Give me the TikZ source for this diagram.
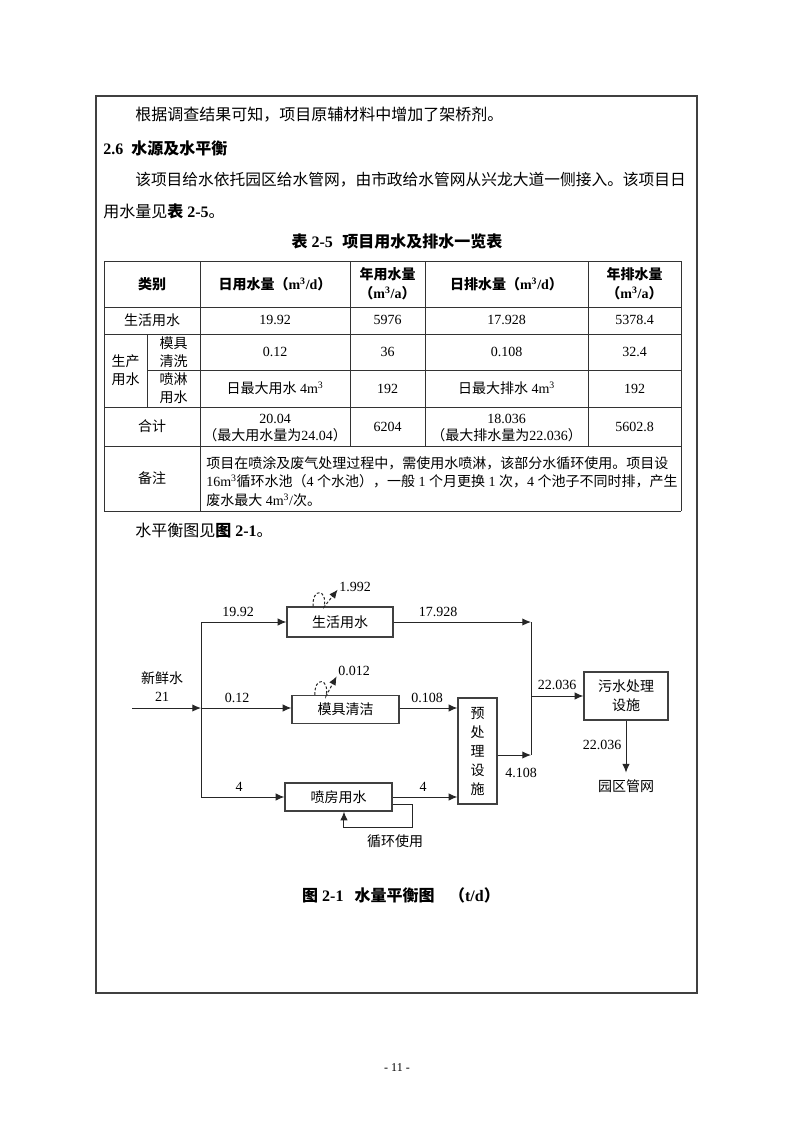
\documentclass[tikz,border=0pt]{standalone}
\usepackage{fontspec}
\setmainfont{Liberation Serif}
\newfontfamily\cjk{Noto Sans CJK SC}
\newcommand\zh[1]{{\cjk #1}}
\usetikzlibrary{arrows.meta}
\tikzset{
  body/.style={inner sep=0pt, anchor=west, font=\fontsize{12pt}{14pt}\selectfont},
  bodyb/.style={inner sep=0pt, anchor=west, font=\fontsize{12pt}{14pt}\selectfont\bfseries},
  cell/.style={inner sep=0pt, align=center, font=\fontsize{10.5pt}{13.5pt}\selectfont},
  cellb/.style={inner sep=0pt, align=center, font=\fontsize{10.5pt}{14.25pt}\selectfont\bfseries},
  tab/.style={line width=0.75pt, black!80},
  box/.style={draw=black!75, line width=0.9pt, inner sep=0pt, align=center,
    font=\fontsize{10.5pt}{14.25pt}\selectfont},
  lbl/.style={inner sep=1pt, align=center, font=\fontsize{10.5pt}{13.5pt}\selectfont},
  line/.style={line width=0.75pt, black!85},
  flow/.style={line, -{Latex[length=6.5pt,width=5.5pt]}},
  loss/.style={line, dashed, dash pattern=on 2pt off 1.5pt, -{Latex[length=6.5pt,width=5.5pt]}}
}
\begin{document}
\begin{tikzpicture}[x=0.75pt,y=-0.75pt]
\fill[white] (0,0) rectangle (793,1122);
\draw[line width=1.2pt, black!75] (96,96) rectangle (697,993);

% text above the table
\node[body] (p1) at (135,115) {\zh{根据调查结果可知，项目原辅材料中增加了架桥剂。}};
\node[bodyb] (sec) at (103,148) {2.6\hspace{0.5em}\zh{水源及水平衡}};
\node[body, font=\fontsize{11.8pt}{14pt}\selectfont] (p2) at (135,180) {\zh{该项目给水依托园区给水管网，由市政给水管网从兴龙大道一侧接入。该项目日}};
\node[body] (p3) at (103,211) {\zh{用水量见}\textbf{\zh{表} 2-5}\zh{。}};
\node[bodyb, anchor=center] (ttl) at (397,241) {\zh{表} 2-5\hspace{0.6em}\zh{项目用水及排水一览表}};

% table rules
\foreach \y in {261,307,334,407,446,511}
  {\draw[tab] (104,\y) -- (681,\y);}
\draw[tab] (147,370) -- (681,370);
\foreach \x in {104,200,681}
  {\draw[tab] (\x,261) -- (\x,511);}
\foreach \x in {350,425,588}
  {\draw[tab] (\x,261) -- (\x,446);}
\draw[tab] (147,334) -- (147,407);

% table cells
\node[cellb] (h1) at (152,284) {\zh{类别}};
\node[cellb] (h2) at (275,284) {\zh{日用水量（}m\textsuperscript{3}/d\zh{）}};
\node[cellb] (h3) at (387.5,284) {\zh{年用水量}\\\zh{（}m\textsuperscript{3}/a\zh{）}};
\node[cellb] (h4) at (506.5,284) {\zh{日排水量（}m\textsuperscript{3}/d\zh{）}};
\node[cellb] (h5) at (634.5,284) {\zh{年排水量}\\\zh{（}m\textsuperscript{3}/a\zh{）}};
\node[cell] (a1) at (152,320) {\zh{生活用水}};
\node[cell] (a2) at (275,320) {19.92};
\node[cell] (a3) at (387.5,320) {5976};
\node[cell] (a4) at (506.5,320) {17.928};
\node[cell] (a5) at (634.5,320) {5378.4};
\node[cell] (b0) at (125.5,370.5) {\zh{生产}\\\zh{用水}};
\node[cell] (b1) at (173.5,352) {\zh{模具}\\\zh{清洗}};
\node[cell] (b2) at (275,352) {0.12};
\node[cell] (b3) at (387.5,352) {36};
\node[cell] (b4) at (506.5,352) {0.108};
\node[cell] (b5) at (634.5,352) {32.4};
\node[cell] (c1) at (173.5,388.5) {\zh{喷淋}\\\zh{用水}};
\node[cell] (c2) at (275,388.5) {\zh{日最大用水} 4m\textsuperscript{3}};
\node[cell] (c3) at (387.5,388.5) {192};
\node[cell] (c4) at (506.5,388.5) {\zh{日最大排水} 4m\textsuperscript{3}};
\node[cell] (c5) at (634.5,388.5) {192};
\node[cell, font=\fontsize{10.5pt}{12.75pt}\selectfont] (d2) at (275,428) {20.04\\\zh{（最大用水量为}24.04\zh{）}};
\node[cell] (d1) at (152,426.5) {\zh{合计}};
\node[cell] (d3) at (387.5,426.5) {6204};
\node[cell, font=\fontsize{10.5pt}{12.75pt}\selectfont] (d4) at (506.5,428) {18.036\\\zh{（最大排水量为}22.036\zh{）}};
\node[cell] (d5) at (634.5,426.5) {5602.8};
\node[cell] (e1) at (152,478.5) {\zh{备注}};
\node[cell, anchor=west, align=left, font=\fontsize{10.5pt}{13.9pt}\selectfont] (e2) at (206,481.5)
  {\zh{项目在喷涂及废气处理过程中，需使用水喷淋，该部分水循环使用。项目设}\\
   16m\textsuperscript{3}\zh{循环水池（}4 \zh{个水池），一般} 1 \zh{个月更换} 1 \zh{次，}4 \zh{个池子不同时排，产生}\\
   \zh{废水最大} 4m\textsuperscript{3}/\zh{次。}};

\node[body] (p4) at (135,531) {\zh{水平衡图见}\textbf{\zh{图} 2-1}\zh{。}};

% water balance diagram
\node[box, minimum width=79.5pt, minimum height=22.5pt] (life) at (340,622) {\zh{生活用水}};
\node[box, minimum width=80.25pt, minimum height=21pt] (mold) at (345.5,709.5) {\zh{模具清洁}};
\node[box, minimum width=80.25pt, minimum height=21pt] (spray) at (338.5,797) {\zh{喷房用水}};
\node[box, minimum width=29.25pt, minimum height=79.5pt] (pre) at (477.5,751)
  {\zh{预}\\\zh{处}\\\zh{理}\\\zh{设}\\\zh{施}};
\node[box, minimum width=63pt, minimum height=36pt] (sew) at (626,696) {\zh{污水处理}\\\zh{设施}};
\node[lbl] (net) at (626,786) {\zh{园区管网}};
\node[lbl] (fresh) at (162,687) {\zh{新鲜水}\\21};

\coordinate (src) at (132,708);
\coordinate (split) at (201,708);
\coordinate (j1) at (531,622);
\coordinate (j2) at (531,755);
\coordinate (j3) at (531,696);
\coordinate (loop) at (412,827);

\draw[flow] (src) -- (split);
\draw[flow] (split) |- (life.west);
\draw[flow] (split) -- (split -| mold.west);
\draw[flow] (split) |- (spray.west);
\draw[flow] (life.east) -- (j1);
\draw[line] (j1) -- (j2);
\draw[flow] (mold.east |- split) -- (pre.west |- split);
\draw[flow] (spray.east) -- (spray.east -| pre.west);
\draw[flow] (pre.east |- j2) -- (j2);
\draw[flow] (j3) -- (sew.west);
\draw[flow] (sew.south) -- ([yshift=4pt]net.north);
\draw[flow] ([yshift=-5.25pt]spray.east) -| (loop) -| ([xshift=4.1pt]spray.south);

\node[lbl] (w1) at (355,587) {1.992};
\node[lbl] (w2) at (354,671) {0.012};
\draw[loss] ([xshift=-20.25pt]life.north) .. controls (312,587) and (328,589) .. (324,607) -- ([yshift=-2pt]w1.west);
\draw[loss] ([xshift=-22.9pt]mold.north) .. controls (314,676) and (330,678) .. (326,696) -- ([yshift=-4pt]w2.west);

\node[lbl] (q1) at (238,612) {19.92};
\node[lbl] (q2) at (237,698) {0.12};
\node[lbl] (q3) at (239,787) {4};
\node[lbl] (q4) at (438,612) {17.928};
\node[lbl] (q5) at (427,698) {0.108};
\node[lbl] (q6) at (423,787) {4};
\node[lbl] (q7) at (521,773) {4.108};
\node[lbl] (q8) at (557,685) {22.036};
\node[lbl] (q9) at (602,745) {22.036};
\node[lbl] (rec) at (395,841) {\zh{循环使用}};

\node[bodyb, anchor=center] (cap) at (401,895) {\zh{图} 2-1\hspace{0.7em}\zh{水量平衡图}\hspace{0.9em}\zh{（}t/d\zh{）}};
\node[inner sep=0pt, font=\fontsize{9pt}{11pt}\selectfont] (pg) at (397,1068) {- 11 -};
\end{tikzpicture}
\end{document}
